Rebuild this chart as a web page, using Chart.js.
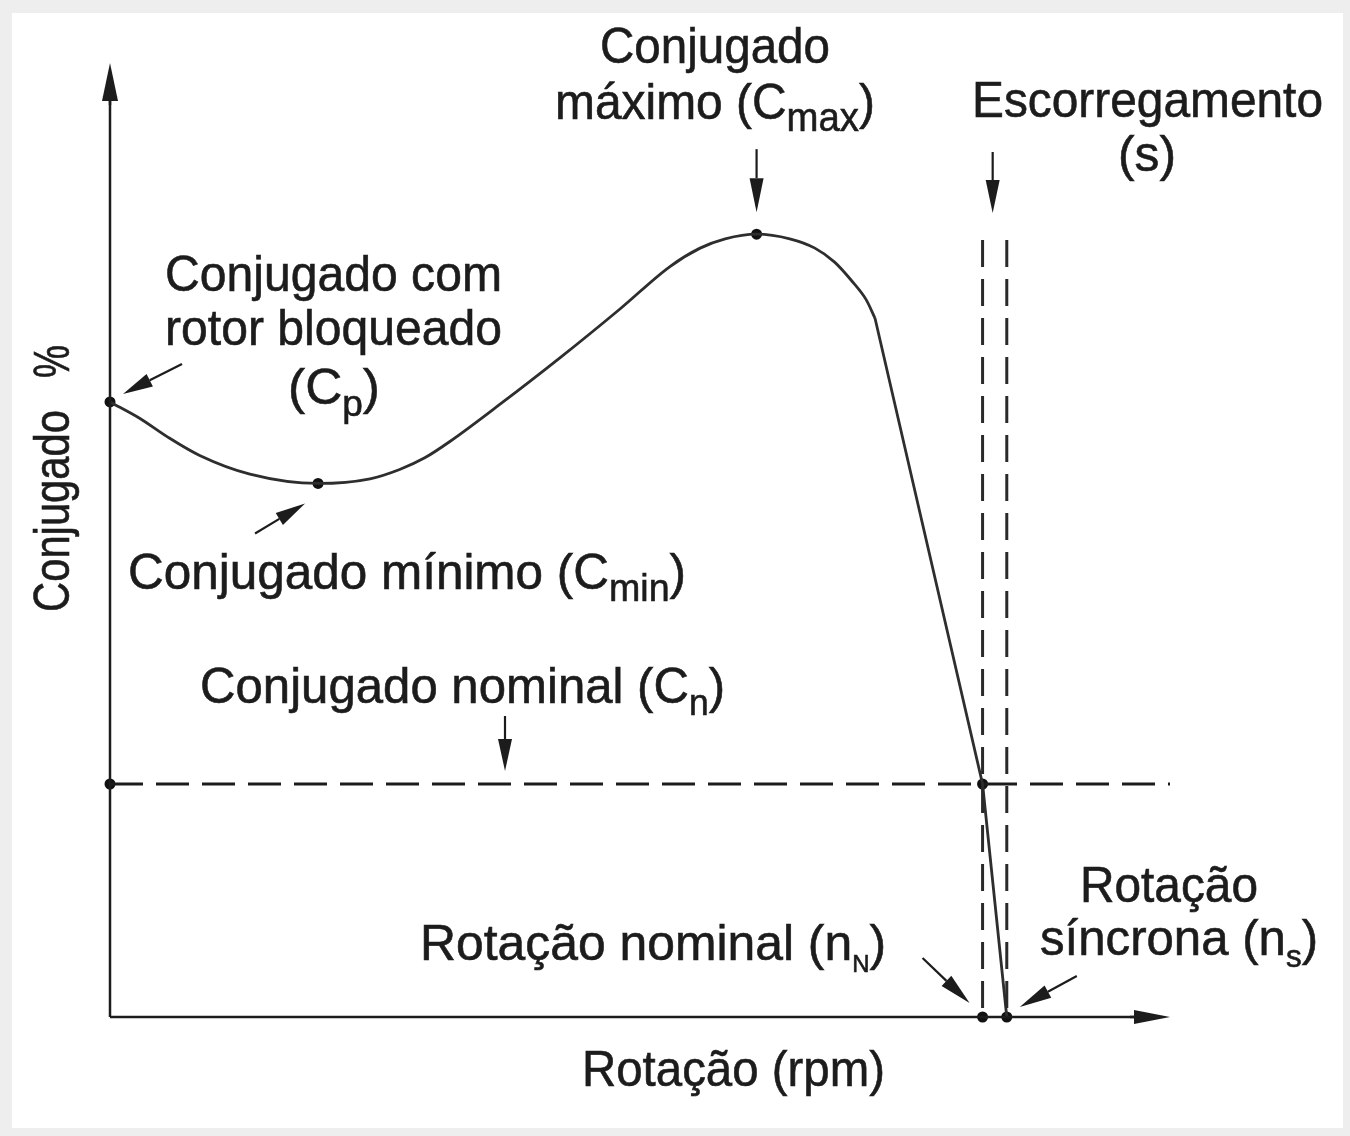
<!DOCTYPE html>
<html>
<head>
<meta charset="utf-8">
<script src="https://cdn.jsdelivr.net/npm/chart.js@4.4.1/dist/chart.umd.min.js"></script>
<style>
  html, body { margin: 0; padding: 0; background: #eeeeee; }
  #c { display: block; }
</style>
</head>
<body>
<canvas id="c" width="1350" height="1136"></canvas>
<script>
// ---- Data (rotation % of synchronous speed, torque % of nominal) ----
const rotation = [0, 3.3, 6.4, 10.0, 15.6, 23.2, 29.0, 32.3, 35.1, 37.9, 43.5, 50.2, 56.9, 62.4, 65.8, 68.6, 72.1, 75.8, 78.6, 80.8, 82.7, 84.3, 85.3, 97.3, 100];
const torque   = [264, 257, 249, 241, 233, 229, 231, 235, 240, 247, 263, 283, 304, 322, 330, 334, 336, 334, 330, 324, 316, 308, 300, 100, 0];
const kneeIndex = 22; // beyond this point the curve falls in straight segments

// Marked points: Cp, Cmin, Cmax, nominal point, nominal on axis, nN on axis, ns on axis
const keyRotation = [0, 23.2, 72.1, 97.3, 0, 97.3, 100];
const keyTorque   = [264, 229, 336, 100, 100, 0, 0];

const nominalTorque = 100;
const nominalRotation = 97.3;
const syncRotation = 100;
const slipLineTop = 333.5;
const axisMaxRotation = 118.2;
const axisMaxTorque = 408.6;

const toXY = (xs, ys) => xs.map((x, i) => ({ x: x, y: ys[i] }));

const INK = '#1c1c1c';
const FONT = "'Liberation Sans Narrow', 'Liberation Sans', Arial, sans-serif";

function drawFit(ctx, parts, x0, x1, baseline, size) {
  let total = 0;
  const meas = parts.map(p => {
    const sz = p[1] === 's' ? (p[2] || size * 0.76) : size;
    ctx.font = sz + 'px ' + FONT;
    const w = ctx.measureText(p[0]).width;
    total += w;
    return { t: p[0], sz: sz, w: w, sub: p[1] === 's' };
  });
  const s = (x1 - x0) / total;
  ctx.save();
  ctx.translate(x0, baseline);
  ctx.scale(s, 1);
  let cx = 0;
  meas.forEach(m => {
    ctx.font = m.sz + 'px ' + FONT;
    ctx.fillText(m.t, cx, m.sub ? size * 0.24 : 0);
    ctx.lineWidth = 0.6;
    ctx.strokeStyle = INK;
    ctx.strokeText(m.t, cx, m.sub ? size * 0.24 : 0);
    cx += m.w;
  });
  ctx.restore();
}

function arrow(ctx, x0, y0, x1, y1, headLen, halfW, lw) {
  const dx = x1 - x0, dy = y1 - y0;
  const L = Math.hypot(dx, dy);
  const ux = dx / L, uy = dy / L;
  const bx = x1 - ux * headLen, by = y1 - uy * headLen;
  ctx.save();
  ctx.strokeStyle = INK;
  ctx.fillStyle = INK;
  ctx.lineWidth = lw || 2.2;
  ctx.beginPath();
  ctx.moveTo(x0, y0);
  ctx.lineTo(bx, by);
  ctx.stroke();
  ctx.beginPath();
  ctx.moveTo(x1, y1);
  ctx.lineTo(bx - uy * halfW, by + ux * halfW);
  ctx.lineTo(bx + uy * halfW, by - ux * halfW);
  ctx.closePath();
  ctx.fill();
  ctx.restore();
}

const bgPlugin = {
  id: 'bg',
  beforeDraw(chart) {
    const ctx = chart.ctx;
    ctx.save();
    ctx.fillStyle = '#eeeeee';
    ctx.fillRect(0, 0, chart.width, chart.height);
    ctx.fillStyle = '#ffffff';
    ctx.fillRect(12, 13, 1331, 1115);
    ctx.restore();
  }
};

const annotPlugin = {
  id: 'annot',
  afterDraw(chart) {
    const ctx = chart.ctx;
    const xs = chart.scales.x, ys = chart.scales.y;
    const X = v => xs.getPixelForValue(v);
    const Y = v => ys.getPixelForValue(v);

    // axis arrowheads
    arrow(ctx, X(0), Y(axisMaxTorque) + 40, X(0), Y(axisMaxTorque) - 2, 38, 8, 2.5);
    arrow(ctx, X(axisMaxRotation) - 40, Y(0), X(axisMaxRotation), Y(0), 36, 7, 2.5);

    // pointer arrows
    const cpx = X(keyRotation[0]), cpy = Y(keyTorque[0]);
    arrow(ctx, cpx + 72, cpy - 38, cpx + 13, cpy - 8, 30, 7);
    const cmx = X(keyRotation[1]), cmy = Y(keyTorque[1]);
    arrow(ctx, cmx - 63, cmy + 50, cmx - 13, cmy + 20, 30, 7);
    const cxx = X(keyRotation[2]), cxy = Y(keyTorque[2]);
    arrow(ctx, cxx, cxy - 85, cxx, cxy - 22, 34, 7);
    const sx = (X(nominalRotation) + X(syncRotation)) / 2 - 2;
    arrow(ctx, sx, Y(slipLineTop) - 88, sx, Y(slipLineTop) - 27, 33, 7);
    arrow(ctx, 505, Y(nominalTorque) - 68, 505, Y(nominalTorque) - 13, 32, 7);
    const nnx = X(nominalRotation), nny = Y(0);
    arrow(ctx, nnx - 60, nny - 59, nnx - 13, nny - 14, 32, 7);
    const nsx = X(syncRotation), nsy = Y(0);
    arrow(ctx, nsx + 70, nsy - 41, nsx + 13, nsy - 10, 32, 7);

    // texts
    ctx.save();
    ctx.fillStyle = INK;
    ctx.textBaseline = 'alphabetic';
    ctx.textAlign = 'left';
    const S = 50;
    drawFit(ctx, [['Conjugado']], 600, 830, 63, S);
    drawFit(ctx, [['máximo (C'], ['max', 's', 40], [')']], 555, 875, 119, S);
    drawFit(ctx, [['Escorregamento']], 972, 1323, 117, S);
    drawFit(ctx, [['(s)']], 1118, 1176, 171, S);
    drawFit(ctx, [['Conjugado com']], 165, 502, 291, S);
    drawFit(ctx, [['rotor bloqueado']], 165, 502, 345, S);
    drawFit(ctx, [['(C'], ['p', 's', 36], [')']], 288, 380, 404, S);
    drawFit(ctx, [['Conjugado mínimo (C'], ['min', 's', 38], [')']], 128, 686, 589, S);
    drawFit(ctx, [['Conjugado nominal (C'], ['n', 's', 36], [')']], 200, 725, 703, S);
    drawFit(ctx, [['Rotação nominal (n'], ['N', 's', 24], [')']], 420, 886, 960, S);
    drawFit(ctx, [['Rotação']], 1080, 1258, 902, S);
    drawFit(ctx, [['síncrona (n'], ['s', 's', 32], [')']], 1040, 1318, 955, S);
    drawFit(ctx, [['Rotação (rpm)']], 582, 885, 1086, S);
    // vertical axis title
    ctx.save();
    ctx.translate(69, 612);
    ctx.rotate(-Math.PI / 2);
    drawFit(ctx, [['Conjugado']], 0, 202, 0, S);
    drawFit(ctx, [['%']], 234, 267, 0, S);
    ctx.restore();
    ctx.restore();
  }
};

const curveSmooth = toXY(rotation.slice(0, kneeIndex + 1), torque.slice(0, kneeIndex + 1));
const curveSteep = toXY(rotation.slice(kneeIndex), torque.slice(kneeIndex));

new Chart(document.getElementById('c'), {
  type: 'scatter',
  data: {
    datasets: [
      { // y axis
        data: toXY([0, 0], [0, axisMaxTorque - 14]),
        showLine: true, borderColor: INK, borderWidth: 2.5, pointRadius: 0, clip: false
      },
      { // x axis
        data: toXY([0, axisMaxRotation - 3], [0, 0]),
        showLine: true, borderColor: INK, borderWidth: 2.5, pointRadius: 0, clip: false
      },
      { // nominal torque line
        data: toXY([0, axisMaxRotation], [nominalTorque, nominalTorque]),
        showLine: true, borderColor: INK, borderWidth: 3, borderDash: [33, 13], pointRadius: 0, clip: false
      },
      { // slip line at nominal speed
        data: toXY([nominalRotation, nominalRotation], [slipLineTop, 0]),
        showLine: true, borderColor: '#2a2a2a', borderWidth: 3, borderDash: [27, 12], pointRadius: 0, clip: false
      },
      { // slip line at synchronous speed
        data: toXY([syncRotation, syncRotation], [slipLineTop, 0]),
        showLine: true, borderColor: '#2a2a2a', borderWidth: 3, borderDash: [27, 12], pointRadius: 0, clip: false
      },
      { // torque-speed curve (smooth part)
        data: curveSmooth,
        showLine: true, borderColor: '#2e2e2e', borderWidth: 2.8, pointRadius: 0,
        cubicInterpolationMode: 'monotone', clip: false
      },
      { // torque-speed curve (steep straight part)
        data: curveSteep,
        showLine: true, borderColor: '#2e2e2e', borderWidth: 2.8, pointRadius: 0,
        tension: 0, clip: false
      },
      { // marked points
        data: toXY(keyRotation, keyTorque),
        showLine: false, pointRadius: 5.5, pointBackgroundColor: '#111111', pointBorderWidth: 0, clip: false
      }
    ]
  },
  options: {
    responsive: false,
    animation: false,
    devicePixelRatio: 1,
    layout: { padding: { left: 110, right: 180, top: 65, bottom: 119 } },
    scales: {
      x: { type: 'linear', min: 0, max: axisMaxRotation, display: false },
      y: { type: 'linear', min: 0, max: axisMaxTorque, display: false }
    },
    plugins: { legend: { display: false }, tooltip: { enabled: false } },
    events: []
  },
  plugins: [bgPlugin, annotPlugin]
});
</script>
</body>
</html>
